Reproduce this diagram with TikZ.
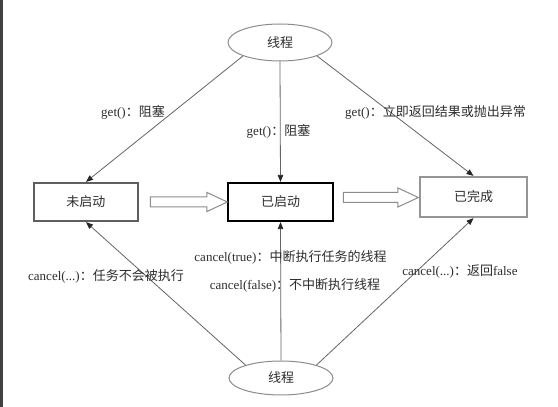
\documentclass[tikz,border=0pt]{standalone}
\usepackage{fontspec}
\setmainfont{Liberation Serif}
\newfontfamily\cjk{Noto Sans CJK SC}
\usepackage{tikz}
\usetikzlibrary{shapes.geometric,shapes.arrows,arrows.meta}
\definecolor{CT}{RGB}{45, 45, 45}
\definecolor{CL}{RGB}{100, 100, 100}
\definecolor{CE}{RGB}{140, 140, 140}
\definecolor{CB1}{RGB}{95, 95, 95}
\definecolor{CB3}{RGB}{150, 150, 150}
\newcommand{\zh}[1]{{\cjk #1}}

\begin{document}
\begin{tikzpicture}[x=1pt, y=1pt, font=\fontsize{13}{15}\selectfont,
    box/.style={draw, line width=2.2pt, fill=white, text=CT, inner sep=0pt},
    thread/.style={ellipse, draw=CE, line width=1pt, text=CT, inner sep=0pt,
                   minimum width=104pt},
    conn/.style={draw=CL, line width=0.8pt,
                 -{Triangle[length=7pt, width=5.5pt, color=black!85]}},
    blk/.style={single arrow, draw=CE, line width=1pt, fill=white,
                single arrow head extend=4.5pt, single arrow tip angle=50,
                inner xsep=0pt, inner ysep=4.5pt},
    lbl/.style={text=CT, inner sep=1pt}]
        \useasboundingbox (0,0) rectangle (558,407);
        \fill[white] (0,0) rectangle (558,407);
        \fill[CT!90] (0,0) rectangle (3,407);
        \node[thread, minimum height=37pt] (thrTop) at (280, 364.5) {\zh{线程}};
        \node[thread, minimum height=34pt] (thrBot) at (281, 29) {\zh{线程}};
        \node[box, draw=CB1, minimum width=104pt, minimum height=38pt] (notStarted) at (86, 205) {\zh{未启动}};
        \node[box, draw=black, minimum width=105pt, minimum height=38pt] (started) at (280.5, 205) {\zh{已启动}};
        \node[box, draw=CB3, minimum width=107pt, minimum height=40pt] (done) at (473.5, 210) {\zh{已完成}};
        \node[blk, minimum height=77pt] (arrowA) at (183.5, 205) {};
        \node[blk, minimum height=75pt] (arrowB) at (375.5, 209.5) {};
        \draw[conn] (thrTop.200) -- (notStarted.north);
        \draw[conn] (thrTop.south) -- (started.north);
        \draw[conn] (thrTop.340) -- (done.north);
        \draw[conn] (thrBot.160) -- (notStarted.south);
        \draw[conn] (thrBot.north) -- (started.south);
        \draw[conn] (thrBot.20) -- (done.south);
        \node[lbl] (getA) at (133, 295) {get()\zh{：阻塞}};
        \node[lbl] (getB) at (278.5, 276) {get()\zh{：阻塞}};
        \node[lbl] (getC) at (435.5, 295) {get()\zh{：立即返回结果或抛出异常}};
        \node[lbl] (cancelA) at (106, 131) {cancel(...)\zh{：任务不会被执行}};
        \node[lbl] (cancelB) at (290.5, 150) {cancel(true)\zh{：中断执行任务的线程}};
        \node[lbl] (cancelC) at (295, 122) {cancel(false)\zh{：不中断执行线程}};
        \node[lbl] (cancelD) at (460, 135) {cancel(...)\zh{：返回}false};
    \end{tikzpicture}
\end{document}
